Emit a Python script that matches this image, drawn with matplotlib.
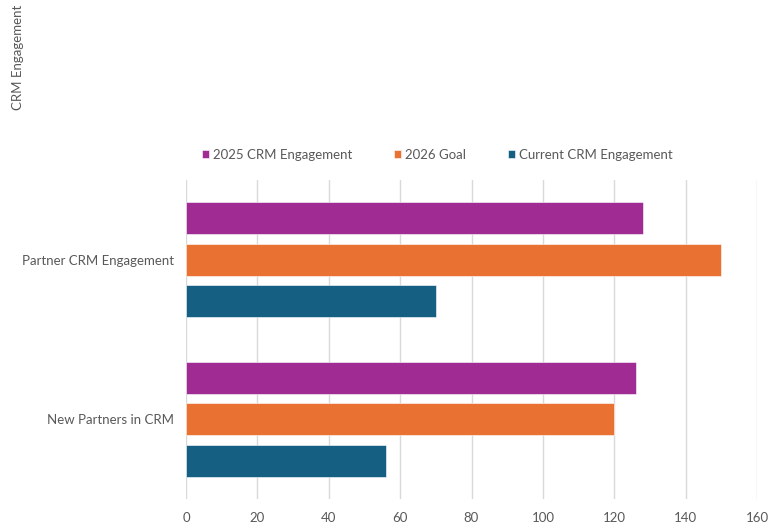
import matplotlib
matplotlib.use("Agg")
import matplotlib.pyplot as plt
import numpy as np

plt.rcParams['font.family'] = ['Lato', 'DejaVu Sans']

categories = ["New Partners in CRM", "Partner CRM Engagement"]
series_names = ["2025 CRM Engagement", "2026 Goal", "Current CRM Engagement"]
engagement_2025 = [126, 128]
goal_2026 = [120, 150]
current_engagement = [56, 70]
x_ticks = [0, 20, 40, 60, 80, 100, 120, 140, 160]

colors = ["#A02B93", "#E97132", "#156082"]
text_color = "#595959"
grid_color = "#D9D9D9"

fig = plt.figure(figsize=(7.78, 5.25), dpi=100)
ax = fig.add_axes([186 / 778, 26 / 525, (757 - 186) / 778, (499 - 180) / 525])

y = np.arange(len(categories))
offsets = [0.26, 0.0, -0.26]
bar_h = 0.2
for vals, name, col, off in zip([engagement_2025, goal_2026, current_engagement],
                                series_names, colors, offsets):
    ax.barh(y + off, vals, height=bar_h, color=col, label=name,
            edgecolor="white", linewidth=0.4, zorder=3)

ax.set_xlim(0, 160)
ax.set_ylim(-0.5, 1.5)
ax.set_xticks(x_ticks)
ax.set_xticklabels([str(t) for t in x_ticks])
ax.set_yticks(y)
ax.set_yticklabels(categories)
ax.tick_params(axis="both", length=0, labelsize=9.5, colors=text_color)
ax.tick_params(axis="x", pad=9)
ax.tick_params(axis="y", pad=8.5)
ax.grid(axis="x", color=grid_color, linewidth=1, zorder=0)
for s in ax.spines.values():
    s.set_visible(False)

leg = fig.legend(loc="center left", bbox_to_anchor=(202 / 778, 1 - 155 / 525),
                 ncol=3, frameon=False, fontsize=9.5, handlelength=0.55,
                 handleheight=0.55, handletextpad=0.3, columnspacing=3.15,
                 labelcolor=text_color, borderaxespad=0, borderpad=0)

fig.text(12 / 778, 1 - 5 / 525, "CRM Engagement", rotation=90, ha="left",
         va="top", fontsize=9.5, color=text_color)

fig.savefig("out.png", dpi=100)
